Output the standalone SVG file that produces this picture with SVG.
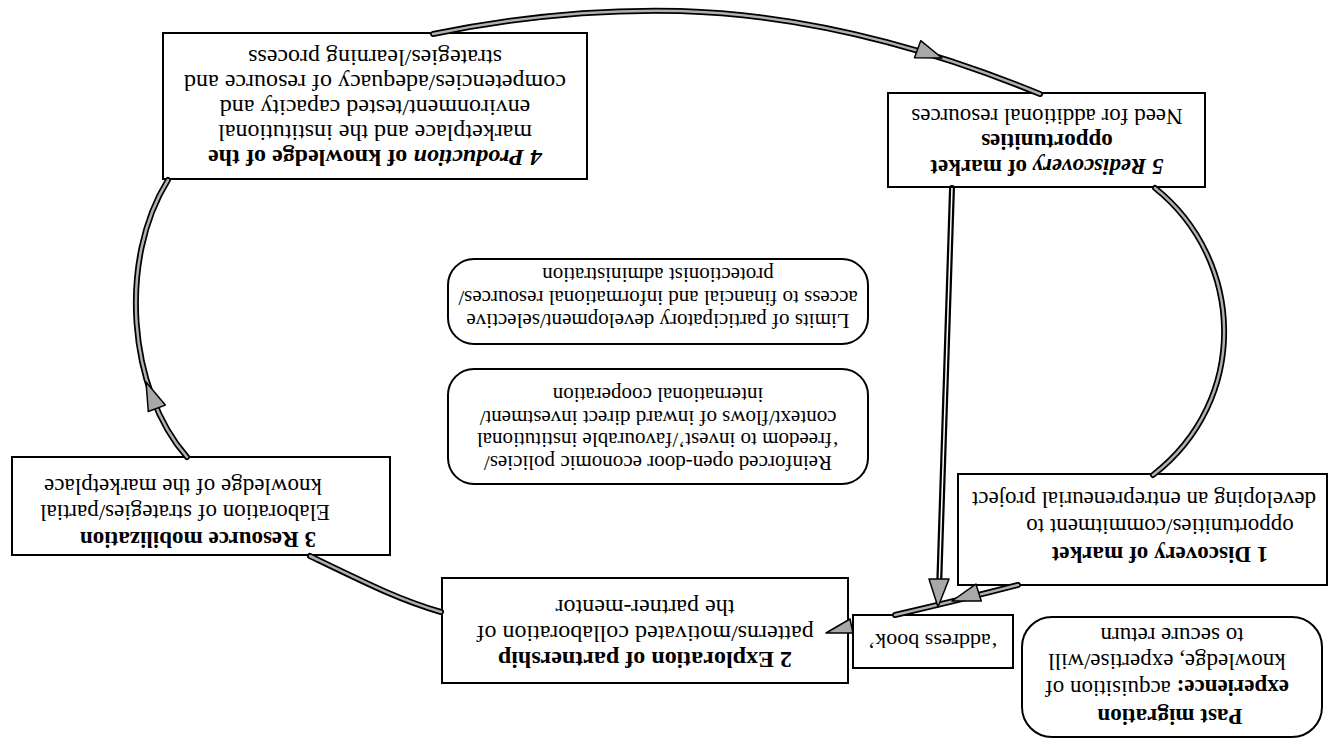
<svg xmlns="http://www.w3.org/2000/svg" width="1330" height="745" viewBox="0 0 1330 745">
<style>
.box{fill:#fff;stroke:#000;stroke-width:2}
.t{font-family:"Liberation Serif","Times New Roman",serif;font-size:23px;fill:#000;text-anchor:middle;dominant-baseline:central}
.L{font-size:24px}
.s{font-size:21px}
.m{font-size:22px}
.b{font-weight:bold}
.i{font-style:italic}
.co{fill:none;stroke:#000;stroke-width:6;stroke-linecap:round}
.ci{fill:none;stroke:#b0b0b0;stroke-width:2.5;stroke-linecap:round}
.cw{fill:none;stroke:#fff;stroke-width:1.5}
.ah{fill:#a8a8a8;stroke:#000;stroke-width:1.5;stroke-linejoin:round}
</style>
<rect width="1330" height="745" fill="#fff"/>

<g id="node4">
<rect class="box" x="163" y="33" width="424" height="146"/>
<text class="t L b" x="375" y="158" transform="rotate(180 375 158)"><tspan class="i">4 Production</tspan> of knowledge of the</text>
<text class="t L" x="375" y="133" transform="rotate(180 375 133)">marketplace and the institutional</text>
<text class="t L" x="375" y="108" transform="rotate(180 375 108)">environment/tested capacity and</text>
<text class="t L" x="375" y="83" transform="rotate(180 375 83)">competencies/adequacy of resource and</text>
<text class="t L" x="375" y="58" transform="rotate(180 375 58)">strategies/learning process</text>
</g>

<g id="node5">
<rect class="box" x="888" y="93" width="317" height="94"/>
<text class="t b" x="1047" y="167" transform="rotate(180 1047 167)"><tspan class="i">5 Rediscovery</tspan> of market</text>
<text class="t b" x="1047" y="141" transform="rotate(180 1047 141)">opportunities</text>
<text class="t" x="1047" y="116" transform="rotate(180 1047 116)">Need for additional resources</text>
</g>

<g id="limits">
<rect class="box" x="448" y="259" width="420" height="85" rx="26"/>
<text class="t s" x="658" y="321" transform="rotate(180 658 321)">Limits of participatory development/selective</text>
<text class="t s" x="658" y="298" transform="rotate(180 658 298)">access to financial and informational resources/</text>
<text class="t s" x="658" y="275" transform="rotate(180 658 275)">protectionist administration</text>
</g>

<g id="reinforced">
<rect class="box" x="448" y="369" width="420" height="115" rx="26"/>
<text class="t s" x="658" y="463" transform="rotate(180 658 463)">Reinforced open-door economic policies/</text>
<text class="t s" x="658" y="440" transform="rotate(180 658 440)">‘freedom to invest’/favourable institutional</text>
<text class="t s" x="658" y="418" transform="rotate(180 658 418)">context/flows of inward direct investment/</text>
<text class="t s" x="658" y="395" transform="rotate(180 658 395)">international cooperation</text>
</g>

<g id="node3">
<rect class="box" x="12" y="457" width="378" height="98"/>
<text class="t b" x="198" y="539" transform="rotate(180 198 539)">3 Resource mobilization</text>
<text class="t" x="185" y="512" transform="rotate(180 185 512)">Elaboration of strategies/partial</text>
<text class="t" x="183" y="486" transform="rotate(180 183 486)">knowledge of the marketplace</text>
</g>

<g id="node1">
<rect class="box" x="958" y="474" width="369" height="111"/>
<text class="t b" x="1160" y="554" transform="rotate(180 1160 554)">1 Discovery of market</text>
<text class="t" x="1160" y="526" transform="rotate(180 1160 526)">opportunities/commitment to</text>
<text class="t" x="1144" y="499" transform="rotate(180 1144 499)">developing an entrepreneurial project</text>
</g>

<g id="node2">
<rect class="box" x="442" y="578" width="406" height="105"/>
<text class="t L b" x="645" y="660" transform="rotate(180 645 660)">2  Exploration of partnership</text>
<text class="t L" x="645" y="634" transform="rotate(180 645 634)">patterns/motivated collaboration of</text>
<text class="t L" x="645" y="608" transform="rotate(180 645 608)">the partner-mentor</text>
</g>

<g id="addressbook">
<rect class="box" x="853" y="615" width="160" height="53"/>
<text class="t m" x="933" y="641" transform="rotate(180 933 641)">‘address book’</text>
</g>

<g id="pastmigration">
<rect class="box" x="1022" y="617" width="300" height="120" rx="30"/>
<text class="t b" x="1170" y="716" transform="rotate(180 1170 716)">Past migration</text>
<text class="t" x="1167" y="688" transform="rotate(180 1167 688)"><tspan class="b">experience:</tspan> acquisition of</text>
<text class="t" x="1167" y="661" transform="rotate(180 1167 661)">knowledge, expertise/will</text>
<text class="t" x="1172" y="635" transform="rotate(180 1172 635)">to secure return</text>
</g>

<g id="connectors">
<path class="co" d="M433 34 Q560 8 680 11 Q850 16 1040 94"/>
<path class="ci" d="M433 34 Q560 8 680 11 Q850 16 1040 94"/>
<path class="co" d="M187 457 C128 390 118 260 168 180"/>
<path class="ci" d="M187 457 C128 390 118 260 168 180"/>
<path class="co" d="M1155 188 C1245 260 1250 400 1153 475"/>
<path class="ci" d="M1155 188 C1245 260 1250 400 1153 475"/>
<path class="co" d="M441 612 C400 600 370 585 310 556"/>
<path class="ci" d="M441 612 C400 600 370 585 310 556"/>
<path class="co" d="M1018 585 Q960 600 895 615"/>
<path class="ci" d="M1018 585 Q960 600 895 615"/>
<path class="co" d="M952 188 L939 590"/>
<path class="cw" d="M952 188 L939 590"/>
<polygon class="ah" points="942,58 914.5,57.7 920.7,40.7"/>
<polygon class="ah" points="146,382 165.3,405.1 148.3,411.5"/>
<polygon class="ah" points="952,601 981.3,601.1 975.9,584.1"/>
<polygon class="ah" points="938,607 929,579 949,579"/>
<polygon class="ah" points="826,633 850,619 853,633"/>
</g>
</svg>
